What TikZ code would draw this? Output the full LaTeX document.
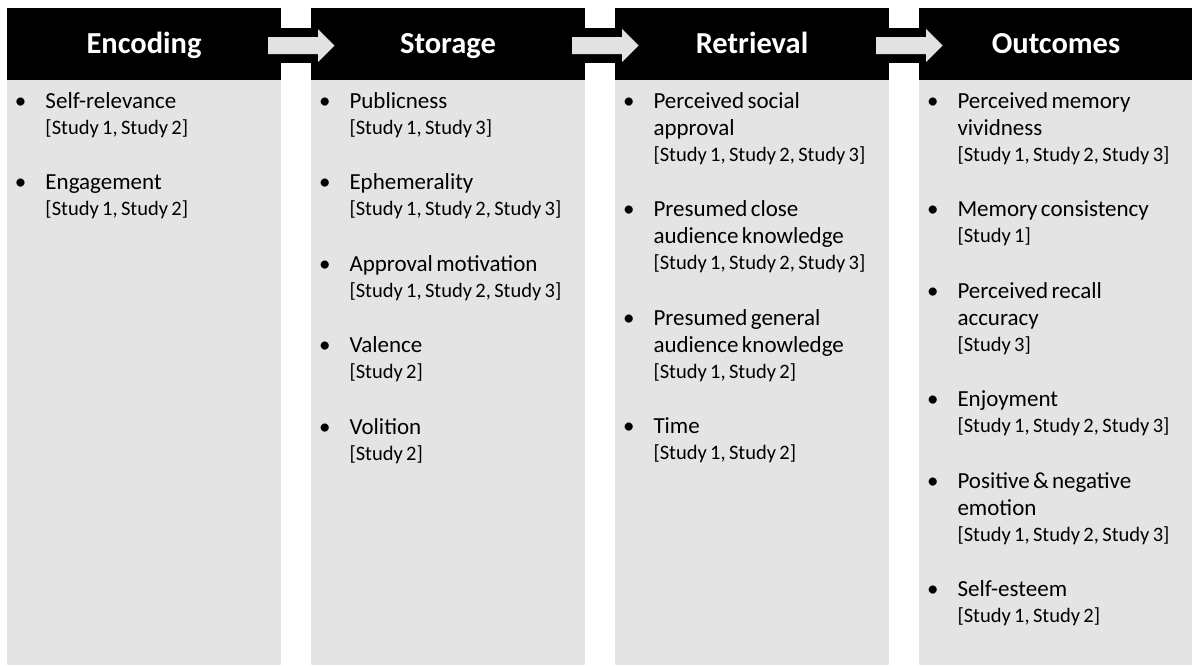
\documentclass[tikz,border=0pt]{standalone}
\usepackage{fontspec}
\setmainfont{Carlito}
\usepackage{xcolor}
\usetikzlibrary{positioning}

\definecolor{panelgray}{HTML}{E4E4E4}
\definecolor{arrowgray}{HTML}{E2E2E2}

% one bullet: label lines, then the studies in brackets
\newcommand{\studyitem}[2]{%
  \fontsize{23pt}{27pt}\selectfont\leftskip=30.5pt
  \strut\llap{\makebox[30.5pt][l]{\textbullet}}#1\par
  \fontsize{20.5pt}{26pt}\selectfont\leftskip=30.5pt
  [#2]\par
  \vspace{28.5pt}}

\begin{document}
\begin{tikzpicture}[every node/.style={inner sep=0pt, outer sep=0pt}]

  \tikzstyle{head}=[fill=black, text=white, minimum width=274pt, minimum height=72pt,
    text height=19.6pt, text depth=0pt, font=\bfseries\fontsize{30.5pt}{36pt}\selectfont]
  \tikzstyle{panel}=[fill=panelgray, minimum width=274pt, minimum height=585pt]
  \tikzstyle{items}=[anchor=north west, text width=262pt, align=left, text=black]

  \useasboundingbox (0,0) rectangle (1192pt,-665pt);

  \node [head, anchor=north west] (enc-head) at (7pt,-8pt) {Encoding};
  \node [head, right = 30pt of enc-head] (sto-head) {Storage};
  \node [head, right = 30pt of sto-head] (ret-head) {Retrieval};
  \node [head, right = 30pt of ret-head] (out-head) {Outcomes};

  \foreach \col in {enc, sto, ret, out} {
    \node [panel, below = 0pt of \col-head] (\col-body) {};
  }

  \foreach \a/\b in {enc/sto, sto/ret, ret/out} {
    \fill [black] ([yshift=16pt]\a-head.east) rectangle ([yshift=-19pt]\b-head.west);
    \fill [arrowgray] ([xshift=-13pt, yshift=-1.5pt]\a-head.east)
      +(0pt,8.5pt) -- +(50pt,8.5pt) -- +(50pt,16.5pt) -- +(66.5pt,0pt)
      -- +(50pt,-16.5pt) -- +(50pt,-8.5pt) -- +(0pt,-8.5pt) -- cycle;
  }

  \node [items] (enc-list) at ([shift={(8pt,-9.1pt)}]enc-body.north west) {
    \studyitem{Self-relevance}{Study 1, Study 2}
    \studyitem{Engagement}{Study 1, Study 2}
  };
  \node [items] (sto-list) at ([shift={(8pt,-9.1pt)}]sto-body.north west) {
    \studyitem{Publicness}{Study 1, Study 3}
    \studyitem{Ephemerality}{Study 1, Study 2, Study 3}
    \studyitem{Approval motivation}{Study 1, Study 2, Study 3}
    \studyitem{Valence}{Study 2}
    \studyitem{Volition}{Study 2}
  };
  \node [items] (ret-list) at ([shift={(8pt,-9.1pt)}]ret-body.north west) {
    \studyitem{Perceived social\\approval}{Study 1, Study 2, Study 3}
    \studyitem{Presumed close\\audience knowledge}{Study 1, Study 2, Study 3}
    \studyitem{Presumed general\\audience knowledge}{Study 1, Study 2}
    \studyitem{Time}{Study 1, Study 2}
  };
  \node [items] (out-list) at ([shift={(8pt,-9.1pt)}]out-body.north west) {
    \studyitem{Perceived memory\\vividness}{Study 1, Study 2, Study 3}
    \studyitem{Memory consistency}{Study 1}
    \studyitem{Perceived recall\\accuracy}{Study 3}
    \studyitem{Enjoyment}{Study 1, Study 2, Study 3}
    \studyitem{Positive \& negative\\emotion}{Study 1, Study 2, Study 3}
    \studyitem{Self-esteem}{Study 1, Study 2}
  };

\end{tikzpicture}
\end{document}
